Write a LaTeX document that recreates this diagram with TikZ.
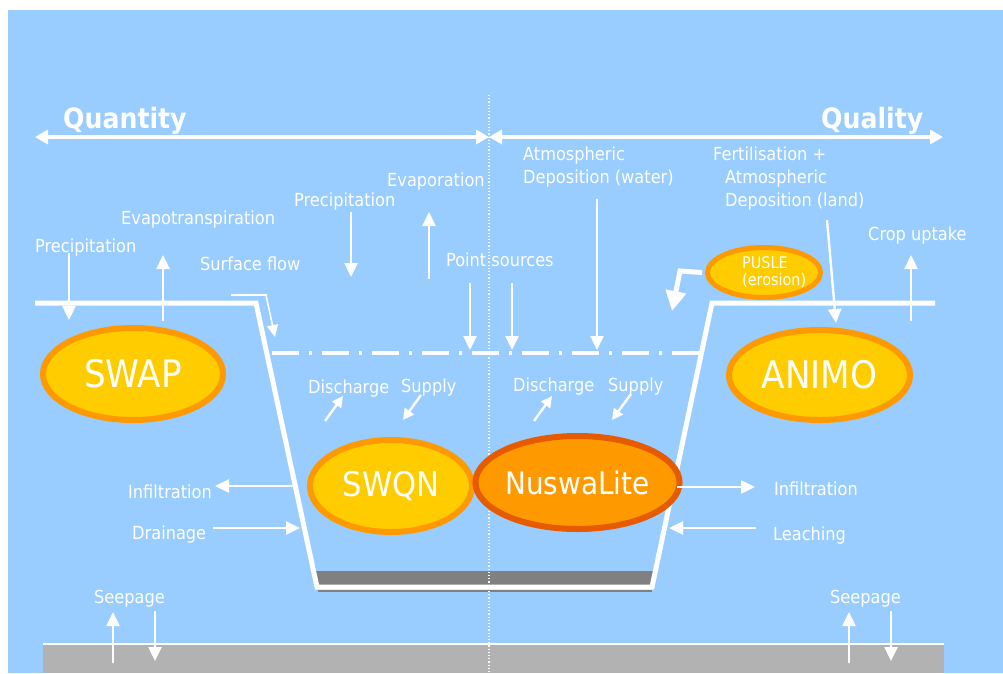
\documentclass[tikz,border=0pt]{standalone}
\usepackage{fontspec}
\setmainfont{DejaVu Sans Condensed}
\usetikzlibrary{arrows.meta,shapes.geometric}
\definecolor{bgblue}{HTML}{99CCFF}
\definecolor{yellowA}{HTML}{FFCC00}
\definecolor{orangeB}{HTML}{FF9900}
\definecolor{orangeD}{HTML}{E65A00}
\definecolor{chgray}{HTML}{808080}
\definecolor{gndgray}{HTML}{B2B2B2}
\begin{document}
\begin{tikzpicture}[x=1pt,y=-1pt,
  lbl/.style={text=white,font=\fontsize{18}{22}\selectfont,inner sep=0pt,anchor=base west},
  head/.style={text=white,font=\bfseries\fontsize{28}{32}\selectfont,inner sep=0pt,anchor=base west},
  arr/.style={white,line width=2.4pt,-{Triangle[length=14pt,width=13pt]}},
  sarr/.style={white,line width=2.4pt,-{Triangle[length=11pt,width=11pt]}},
  dbl/.style={white,line width=4.5pt,{Triangle[length=13pt,width=14pt]}-{Triangle[length=13pt,width=14pt]}},
  model/.style={ellipse,draw=orangeB,line width=6pt,fill=yellowA,text=white,inner sep=0pt}]
\fill[white] (0,0) rectangle (1003,673);
\useasboundingbox (0,0) rectangle (1003,673);
\fill[bgblue] (8,10) rectangle (1003,673);
% ground at bottom
\fill[gndgray] (43,645) rectangle (944,673);
\draw[white,line width=2.5pt] (43,644) -- (944,644);
% channel bottom
\fill[chgray] (313,571) -- (655,571) -- (652,587) -- (317,587) -- cycle;
\draw[chgray,line width=2pt] (318,591) -- (652,591);
% divider
\draw[white,line width=1.2pt,dash pattern=on 1.2pt off 2pt] (489,95) -- (489,673);
% quantity / quality
\draw[dbl] (35,137) -- (489,137);
\draw[dbl] (489,137) -- (943,137);
\node[head] (qty) at (63,128) {Quantity};
\node[head] (qlt) at (821,128) {Quality};
% land surface and channel
\draw[white,line width=5pt,line join=miter] (35,303) -- (256,303) -- (317,587) -- (652,587) -- (712,303) -- (935,303);
% water level
\draw[white,line width=3.5pt,dash pattern=on 27pt off 10pt on 3pt off 10pt] (272,353) -- (700,353);
% models
\node[model,minimum width=180pt,minimum height=92pt] (swap) at (133,374) {\fontsize{38}{40}\selectfont SWAP};
\node[model,minimum width=181pt,minimum height=90pt] (animo) at (819.5,375) {\fontsize{38}{40}\selectfont ANIMO};
\node[model,minimum width=162pt,minimum height=92pt] (swqn) at (391,486) {\fontsize{34}{36}\selectfont SWQN};
\node[model,draw=orangeD,fill=orangeB,minimum width=163pt,minimum height=93pt] (nusw) at (577.5,482.5) {\fontsize{31}{33}\selectfont NuswaLite};
\node[model,line width=5pt,minimum width=113pt,minimum height=50pt] (pusle) at (764,272.5) {};
\node[text=white,font=\fontsize{16}{17}\selectfont,inner sep=0pt,anchor=base west] (pusle1) at (742,268) {PUSLE};
\node[text=white,font=\fontsize{16}{17}\selectfont,inner sep=0pt,anchor=base west] (pusle2) at (742,285) {(erosion)};
\draw[white,line width=5pt,line join=miter,-{Triangle[length=20pt,width=20pt]}] ([xshift=-3pt]pusle.west) -- (680,271) -- (672,311);
% labels
\node[lbl] (precL) at (35,252) {Precipitation};
\node[lbl] (evapotr) at (121,224) {Evapotranspiration};
\node[lbl] (sflow) at (200,270) {Surface flow};
\node[lbl] (precM) at (294,206) {Precipitation};
\node[lbl] (evap) at (387,186) {Evaporation};
\node[lbl] (psrc) at (446,266) {Point sources};
\node[lbl] (atw1) at (523,160) {Atmospheric};
\node[lbl] (atw2) at (523,183) {Deposition (water)};
\node[lbl] (fert1) at (713,160) {Fertilisation +};
\node[lbl] (fert2) at (725,183) {Atmospheric};
\node[lbl] (fert3) at (725,206) {Deposition (land)};
\node[lbl] (crop) at (868,240) {Crop uptake};
\node[lbl] (dis1) at (308,393) {Discharge};
\node[lbl] (sup1) at (401,392) {Supply};
\node[lbl] (dis2) at (513,391) {Discharge};
\node[lbl] (sup2) at (608,391) {Supply};
\node[lbl] (infL) at (128,498) {Infiltration};
\node[lbl] (drain) at (132,539) {Drainage};
\node[lbl] (infR) at (774,495) {Infiltration};
\node[lbl] (leach) at (773,540) {Leaching};
\node[lbl] (seepL) at (94,603) {Seepage};
\node[lbl] (seepR) at (830,603) {Seepage};
% flux arrows
\draw[arr] (69,253) -- (69,320);
\draw[arr] (163,321) -- (163,255);
\draw[white,line width=1.6pt,-{Triangle[length=12pt,width=11pt]}] (231,295) -- (266,295) -- (275,337);
\draw[arr] (351,212) -- (351,277);
\draw[arr] (429,279) -- (429,212);
\draw[arr] (470,283) -- (470,350);
\draw[arr] (512,283) -- (512,350);
\draw[arr] (597,199) -- (597,350);
\draw[arr] (827,220) -- (836,323);
\draw[arr] (911,321) -- (911,255);
\draw[sarr] (325,421) -- (343,396);
\draw[sarr] (421,395) -- (403,420);
\draw[sarr] (534,421) -- (552,396);
\draw[sarr] (631,394) -- (612,420);
\draw[arr] (293,486) -- (215,486);
\draw[arr] (213,528) -- (300,528);
\draw[arr] (677,487) -- (755,487);
\draw[arr] (756,528) -- (669,528);
\draw[arr] (113,663) -- (113,612);
\draw[arr] (155,611) -- (155,661);
\draw[arr] (849,663) -- (849,612);
\draw[arr] (891,611) -- (891,661);
\end{tikzpicture}
\end{document}
